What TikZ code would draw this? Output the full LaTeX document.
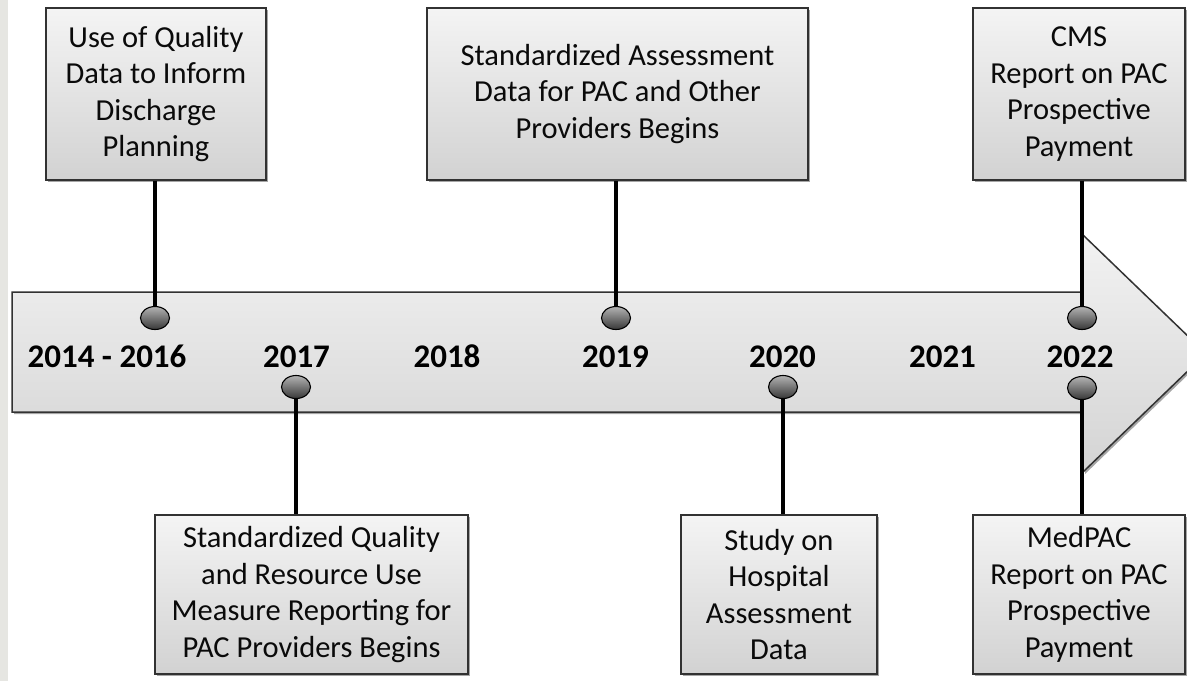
\documentclass[tikz,border=0pt]{standalone}
\usepackage{fontspec}
\setmainfont{Carlito}
\usetikzlibrary{shapes.geometric,shadows}
\definecolor{boxtop}{RGB}{244,244,244}
\definecolor{boxbot}{RGB}{210,210,210}
\definecolor{arrtop}{RGB}{242,242,242}
\definecolor{arrbot}{RGB}{212,212,212}
\definecolor{edge}{RGB}{50,50,50}
\definecolor{strip}{RGB}{230,230,226}
\definecolor{ink}{RGB}{10,10,10}
\begin{document}
\begin{tikzpicture}[x=1pt,y=-1pt,
  event/.style={draw=edge, line width=1.5pt, top color=boxtop, bottom color=boxbot,
    align=center, text=ink, font=\fontsize{30.5}{36.5}\selectfont, inner sep=0pt,
    drop shadow={shadow xshift=2pt,shadow yshift=-2pt,opacity=0.35,fill=black}},
  year/.style={font=\fontsize{33}{36}\selectfont\bfseries, inner sep=0pt, anchor=base, text=black},
  dot/.style={ellipse, draw=black, line width=1.1pt, top color=black!30, bottom color=black!78,
    minimum width=29pt, minimum height=23pt, inner sep=0pt},
  stem/.style={line width=3.2pt, black}]
\useasboundingbox (0,0) rectangle (1187,681);
\clip (0,0) rectangle (1187,681);
\fill[white] (0,0) rectangle (1187,681);
\fill[strip] (0,0) rectangle (8,681);

% timeline arrow
\path[draw=edge, line width=1.5pt, top color=arrtop, bottom color=arrbot,
  drop shadow={shadow xshift=2pt,shadow yshift=-2pt,opacity=0.35,fill=black}]
  (12,292) -- (1083,292) -- (1083,235) -- (1206,353.5) -- (1083,472) -- (1083,412) -- (12,412) -- cycle;

% event boxes
\node[event, minimum width=220pt, minimum height=172pt] (b1) at (156,94)
  {Use of Quality\\Data to Inform\\Discharge\\Planning};
\node[event, minimum width=381pt, minimum height=172pt] (b2) at (617.5,94)
  {Standardized Assessment\\Data for PAC and Other\\Providers Begins};
\node[event, minimum width=212pt, minimum height=172pt] (b3) at (1079,94)
  {CMS\\Report on PAC\\Prospective\\Payment};
\node[event, minimum width=313pt, minimum height=159pt] (b4) at (311.5,594.5)
  {Standardized Quality\\and Resource Use\\Measure Reporting for\\PAC Providers Begins};
\node[event, minimum width=196pt, minimum height=159pt] (b5) at (779,594.5)
  {Study on\\Hospital\\Assessment\\Data};
\node[event, minimum width=212pt, minimum height=159pt] (b6) at (1079,594.5)
  {MedPAC\\Report on PAC\\Prospective\\Payment};

% markers
\node[dot] (d1) at (155,318) {};
\node[dot] (d2) at (296,387) {};
\node[dot] (d3) at (616,318) {};
\node[dot] (d4) at (783,387) {};
\node[dot] (d5) at (1082,318) {};
\node[dot] (d6) at (1082,388) {};

% stems
\draw[stem] (d1 |- b1.south) -- (d1.north);
\draw[stem] (d3 |- b2.south) -- (d3.north);
\draw[stem] (d5 |- b3.south) -- (d5.north);
\draw[stem] (d2.south) -- (d2 |- b4.north);
\draw[stem] (d4.south) -- (d4 |- b5.north);
\draw[stem] (d6.south) -- (d6 |- b6.north);

% years
\node[year] (y1) at (107,367) {2014 - 2016};
\node[year] (y2) at (296.5,367) {2017};
\node[year] (y3) at (447,367) {2018};
\node[year] (y4) at (615.5,367) {2019};
\node[year] (y5) at (782.5,367) {2020};
\node[year] (y6) at (942.5,367) {2021};
\node[year] (y7) at (1080,367) {2022};
\end{tikzpicture}
\end{document}
